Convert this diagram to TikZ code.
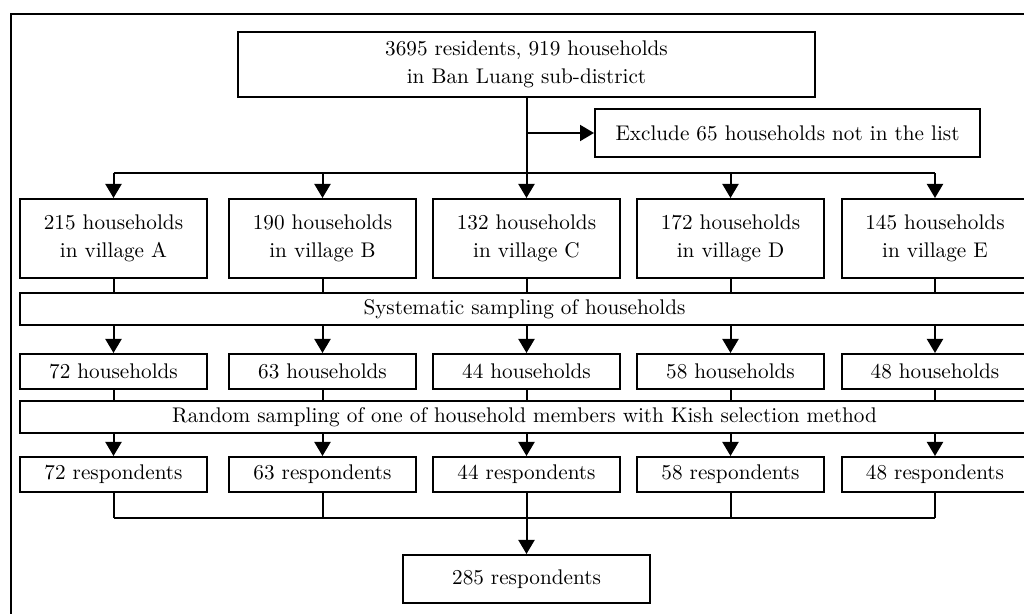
\documentclass[tikz,border=0pt]{standalone}
\usetikzlibrary{arrows.meta}
\begin{document}
\begin{tikzpicture}[x=0.5pt,y=-0.5pt,
  box/.style={draw,line width=1pt,align=center,inner sep=0pt,font=\fontsize{10.6}{14}\selectfont},
  vbox/.style={box,minimum width=93.5pt,minimum height=39.5pt},
  sbox/.style={box,minimum width=93.5pt,minimum height=17.5pt},
  wbox/.style={box,minimum width=504.5pt,minimum height=16pt},
  arr/.style={line width=1pt,-{Triangle[width=8pt,length=7pt]}},
  ln/.style={line width=1pt}]
\clip (0,0) rectangle (1024,614);
% frame
\draw[ln] (1040,14) -- (10.5,14) -- (10.5,630);
% top
\node[box,minimum width=288.5pt,minimum height=32.5pt] (top) at (526.5,64.5) {3695 residents, 919 households\\in Ban Luang sub-district};
\node[box,minimum width=192.5pt,minimum height=24pt] (excl) at (787.5,133) {Exclude 65 households not in the list};
% villages
\node[vbox] (vA) at (113.5,238.5) {215 households\\in village A};
\node[vbox] (vB) at (322.5,238.5) {190 households\\in village B};
\node[vbox] (vC) at (526.5,238.5) {132 households\\in village C};
\node[vbox] (vD) at (730.5,238.5) {172 households\\in village D};
\node[vbox] (vE) at (935,238.5) {145 households\\in village E};
% systematic
\node[wbox] (sys) at (524.5,309.5) {Systematic sampling of households};
% households
\node[sbox] (hA) at (113.5,371.5) {72 households};
\node[sbox] (hB) at (322.5,371.5) {63 households};
\node[sbox] (hC) at (526.5,371.5) {44 households};
\node[sbox] (hD) at (730.5,371.5) {58 households};
\node[sbox] (hE) at (935,371.5) {48 households};
% random
\node[wbox] (rnd) at (524.5,417) {Random sampling of one of household members with Kish selection method};
% respondents
\node[sbox] (rA) at (113.5,474.5) {72 respondents};
\node[sbox] (rB) at (322.5,474.5) {63 respondents};
\node[sbox] (rC) at (526.5,474.5) {44 respondents};
\node[sbox] (rD) at (730.5,474.5) {58 respondents};
\node[sbox] (rE) at (935,474.5) {48 respondents};
% final
\node[box,minimum width=123.5pt,minimum height=24pt] (fin) at (526.5,579) {285 respondents};
% connectors top
\coordinate (bus) at (0,173);
\coordinate (ex) at (top.south |- excl.west);
\draw[arr] (top.south) -- (vC.north);
\draw[arr] (ex) -- (excl.west);
\draw[ln] (vA.north |- bus) -- (vE.north |- bus);
\foreach \v in {vA,vB,vD,vE} {\draw[arr] (\v.north |- bus) -- (\v.north);}
% villages -> sys
\foreach \v in {vA,vB,vC,vD,vE} {\draw[ln] (\v.south) -- (\v.south |- sys.north);}
% sys -> households
\foreach \v in {hA,hB,hC,hD,hE} {\draw[arr] (\v.north |- sys.south) -- (\v.north);}
% households -> random
\foreach \v in {hA,hB,hC,hD,hE} {\draw[ln] (\v.south) -- (\v.south |- rnd.north);}
% random -> respondents
\foreach \v in {rA,rB,rC,rD,rE} {\draw[arr] (\v.north |- rnd.south) -- (\v.north);}
% respondents -> final
\coordinate (bus2) at (0,518);
\draw[ln] (rA.south |- bus2) -- (rE.south |- bus2);
\foreach \v in {rA,rB,rD,rE} {\draw[ln] (\v.south) -- (\v.south |- bus2);}
\draw[arr] (rC.south) -- (fin.north);
\end{tikzpicture}
\end{document}
